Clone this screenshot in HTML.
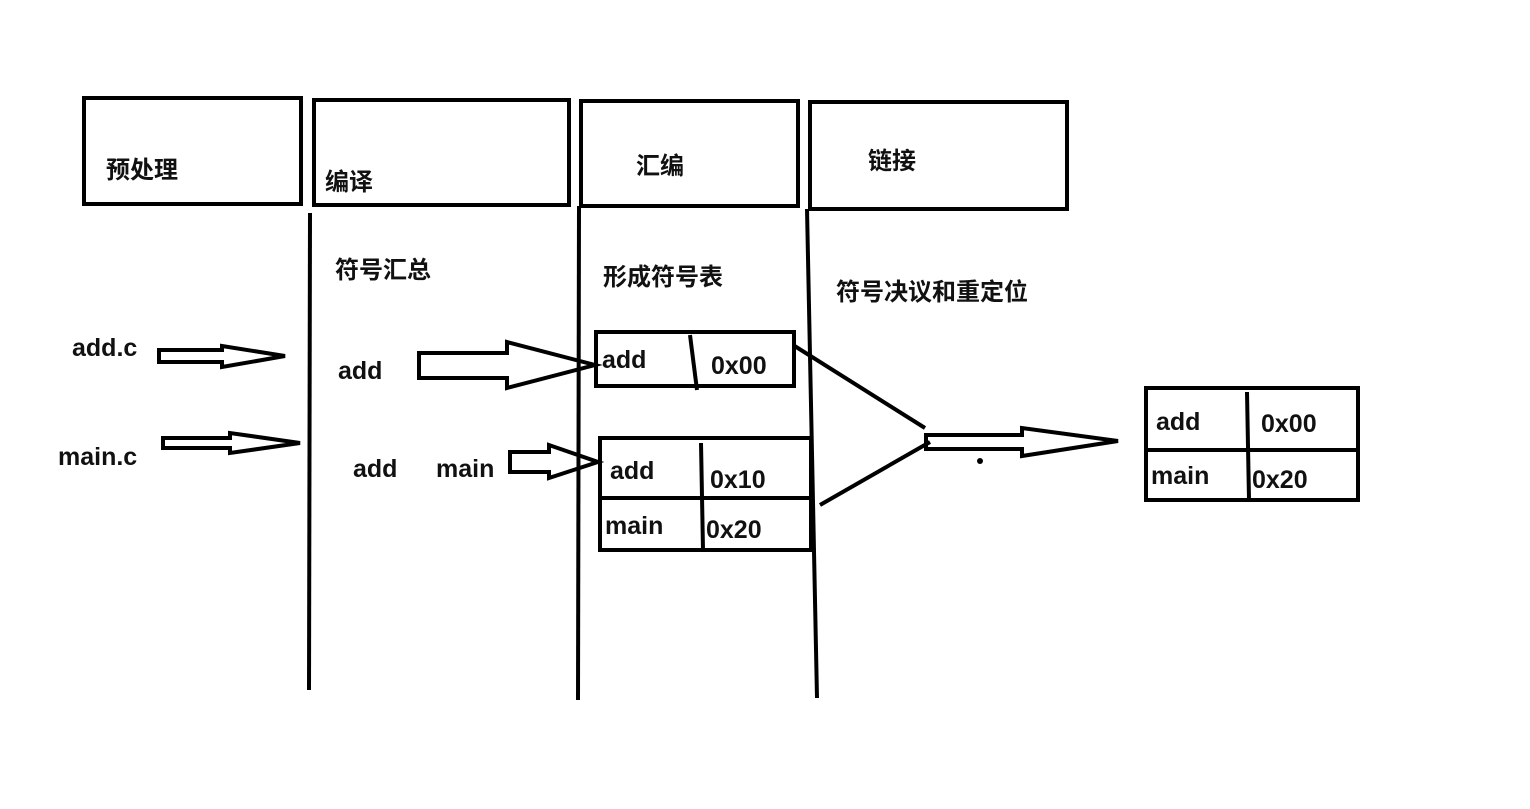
<!DOCTYPE html>
<html><head><meta charset="utf-8"><style>
html,body{margin:0;padding:0;background:#fff;}
svg{display:block}
text{font-family:"Liberation Sans","Noto Sans CJK SC",sans-serif;font-weight:bold;fill:#111;}
</style></head><body>
<svg width="1530" height="809" viewBox="0 0 1530 809" xmlns="http://www.w3.org/2000/svg">
<g fill="none" stroke="#000" stroke-width="4" stroke-linejoin="miter">
<rect x="84" y="98" width="217" height="106"/>
<rect x="314" y="100" width="255" height="105"/>
<rect x="581" y="101" width="217" height="105"/>
<rect x="810" y="102" width="257" height="107"/>
<line x1="310" y1="213" x2="309" y2="690"/>
<line x1="579" y1="206" x2="578" y2="700"/>
<line x1="807" y1="209" x2="817" y2="698"/>
<polygon points="159,350 222,350 222,346 285,356 222,367 222,362 159,362"/>
<polygon points="163,438 230,438 230,433 300,443 230,453 230,448 163,448"/>
<polygon points="419,353 507,353 507,342 595,365 507,388 507,378 419,378"/>
<polygon points="510,452 549,452 549,445 598,462 549,478 549,472 510,472"/>
<rect x="596" y="332" width="198" height="54"/>
<line x1="690" y1="335" x2="697" y2="390"/>
<rect x="600" y="438" width="211" height="112"/>
<line x1="600" y1="498" x2="811" y2="498"/>
<line x1="701" y1="443" x2="703" y2="550"/>
<line x1="793" y1="345" x2="925" y2="428"/>
<line x1="820" y1="505" x2="930" y2="442"/>
<polygon points="926,435 1022,435 1022,428 1118,441 1022,456 1022,449 926,449"/>
<rect x="1146" y="388" width="212" height="112"/>
<line x1="1146" y1="450" x2="1358" y2="450"/>
<line x1="1247" y1="392" x2="1249" y2="500"/>
</g>
<circle cx="980" cy="461" r="3" fill="#000"/>
<g font-size="24">
<text x="106" y="178">预处理</text>
<text x="325" y="190">编译</text>
<text x="636" y="174">汇编</text>
<text x="868" y="169">链接</text>
<text x="335" y="278">符号汇总</text>
<text x="603" y="285">形成符号表</text>
<text x="836" y="300">符号决议和重定位</text>
</g>
<g font-size="25">
<text x="72" y="356">add.c</text>
<text x="58" y="465">main.c</text>
<text x="338" y="379">add</text>
<text x="353" y="477">add</text>
<text x="436" y="477">main</text>
<text x="602" y="368">add</text>
<text x="711" y="374">0x00</text>
<text x="610" y="479">add</text>
<text x="710" y="488">0x10</text>
<text x="605" y="534">main</text>
<text x="706" y="538">0x20</text>
<text x="1156" y="430">add</text>
<text x="1261" y="432">0x00</text>
<text x="1151" y="484">main</text>
<text x="1252" y="488">0x20</text>
</g>
</svg>
</body></html>
